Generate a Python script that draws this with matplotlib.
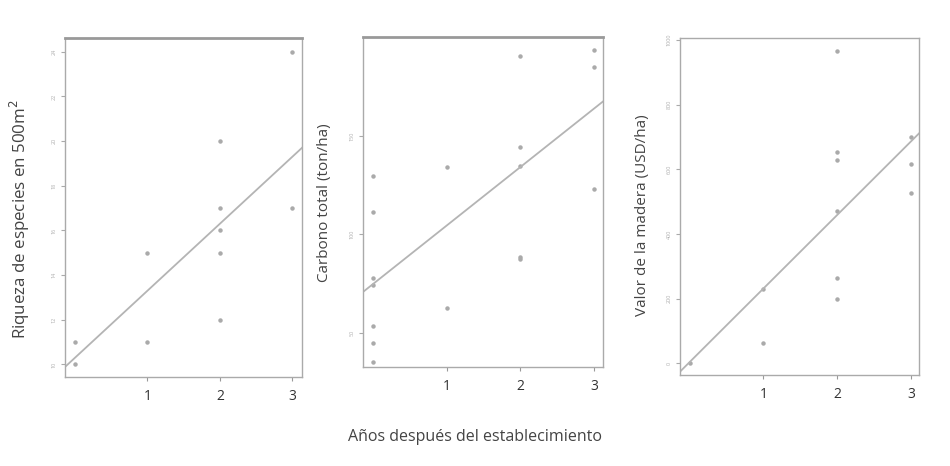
import numpy as np
import matplotlib
matplotlib.use("Agg")
import matplotlib.pyplot as plt

plt.rcParams['font.family'] = ['Open Sans', 'DejaVu Sans']

# años después del establecimiento (eje x de los tres paneles)
x_riqueza = [0, 0, 1, 1, 2, 2, 2, 2, 2, 3, 3]
y_riqueza = [10, 11, 15, 11, 20, 17, 16, 15, 12, 24, 17]

x_carbono = [0, 0, 0, 0, 0, 0, 0, 1, 1, 2, 2, 2, 2, 2, 3, 3, 3]
y_carbono = [129.8, 111.5, 77.6, 74.2, 53.4, 44.6, 35.3, 134.4, 62.4,
             190.8, 144.6, 134.7, 88.6, 87.5, 193.7, 185.3, 123.0]

x_madera = [0, 1, 1, 2, 2, 2, 2, 2, 2, 3, 3, 3]
y_madera = [0, 229, 62, 967, 653, 629, 471, 263, 200, 699, 615, 526]

# rectas de regresión (intercepto, pendiente)
fit_riqueza = (10.3, 3.0)
fit_carbono = (74.8, 29.7)
fit_madera = (3.8, 227.4)

yticks_riqueza = [10, 12, 14, 16, 18, 20, 22, 24]
yticks_carbono = [50, 100, 150]
yticks_madera = [0, 200, 400, 600, 800, 1000]

ylabels = ["Riqueza de especies en 500m$^2$", "Carbono total (ton/ha)",
           "Valor de la madera (USD/ha)"]
ylabel_sizes = [12.2, 11, 11]

fig = plt.figure(figsize=(9.5, 4.66), dpi=100)

panels = [
    ([0.0684, 0.1916, 0.250, 0.726], x_riqueza, y_riqueza, fit_riqueza,
     yticks_riqueza, (9.45, 24.6), (-0.138, 3.14), (-0.14, 0.466)),
    ([0.3824, 0.2131, 0.252, 0.708], x_carbono, y_carbono, fit_carbono,
     yticks_carbono, (32.7, 200.5), (-0.134, 3.12), (-0.132, 0.496)),
    ([0.7158, 0.1953, 0.2516, 0.7225], x_madera, y_madera, fit_madera,
     yticks_madera, (-36, 1005), (-0.13, 3.11), (-0.125, 0.475)),
]

for i, (rect, xs, ys, fit, yt, ylim, xlim, labpos) in enumerate(panels):
    ax = fig.add_axes(rect)
    ax.plot(xs, ys, 'o', ms=2.2, color='#aaaaaa', mec='#aaaaaa')
    xx = np.array(xlim)
    ax.plot(xx, fit[0] + fit[1] * xx, color='#b4b4b4', lw=1.3)
    ax.set_xlim(*xlim)
    ax.set_ylim(*ylim)
    ax.set_xticks([1, 2, 3])
    ax.set_xticklabels(['1', '2', '3'], fontsize=10, color='#333333')
    ax.set_yticks(yt)
    ax.set_yticklabels([str(v) for v in yt], fontsize=4, color='#b0b0b0',
                       rotation=90, va='center')
    ax.tick_params(axis='x', length=3, color='#999999', pad=6)
    ax.tick_params(axis='y', length=3, color='#aaaaaa', pad=3)
    for s in ax.spines.values():
        s.set_color('#aaaaaa')
        s.set_linewidth(1.0)
    if i < 2:
        ax.spines['top'].set_linewidth(2.0)
        ax.spines['top'].set_color('#999999')
    ax.set_ylabel(ylabels[i], fontsize=ylabel_sizes[i], color='#444444')
    ax.yaxis.set_label_coords(*labpos)

fig.text(0.5, 0.062, "Años después del establecimiento", ha='center',
         va='center', fontsize=11.5, color='#444444')

fig.savefig("out.png", dpi=100, facecolor='white')
